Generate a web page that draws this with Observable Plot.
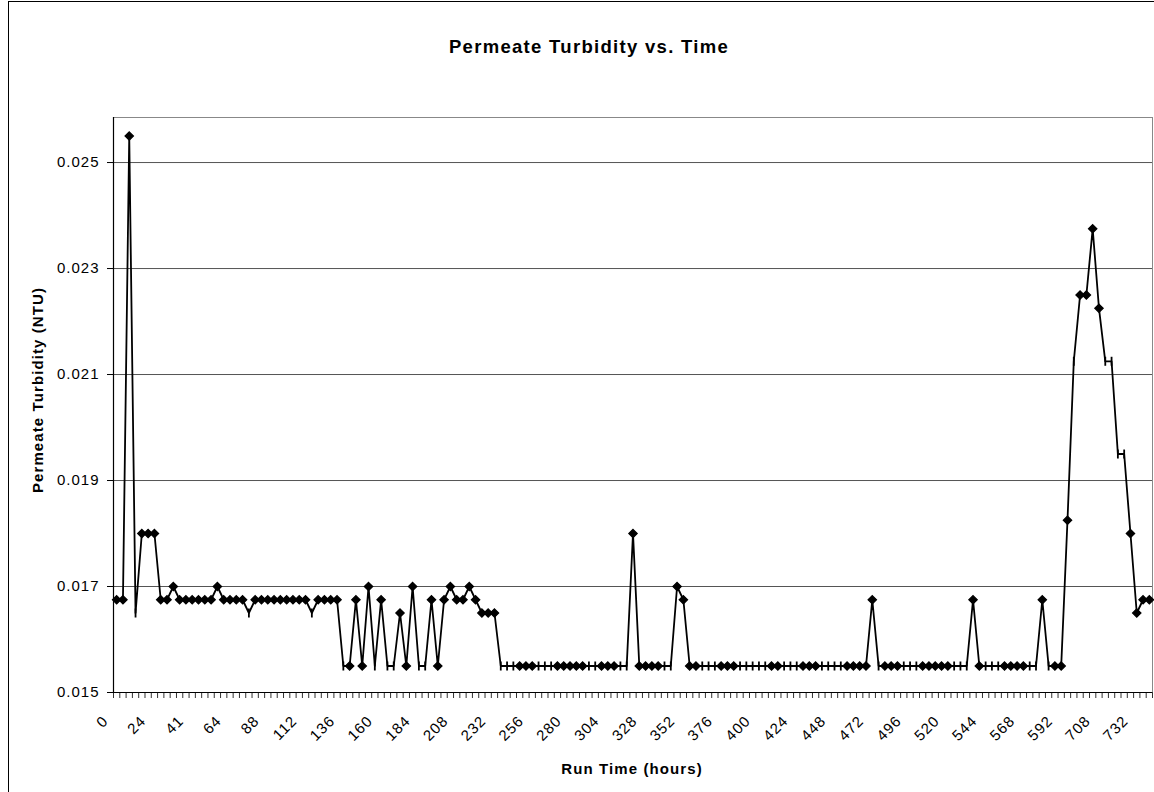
<!DOCTYPE html>
<html><head><meta charset="utf-8">
<script src="https://cdn.jsdelivr.net/npm/d3@7"></script>
<script src="https://cdn.jsdelivr.net/npm/@observablehq/plot@0.6"></script>
<style>
body{margin:0;background:#fff;}
#wrap{position:relative;width:1154px;height:792px;overflow:hidden;background:#fff;font-family:"Liberation Sans",Arial,sans-serif;color:#000;}
#chart{position:absolute;left:0;top:0;}
.border{position:absolute;left:8px;top:1px;width:1300px;height:1000px;border:1px solid #000;box-sizing:border-box;}
.t{position:absolute;white-space:nowrap;font-weight:bold;}
#title{left:0;width:1178px;text-align:center;top:38px;font-size:18.5px;line-height:18px;letter-spacing:1.3px;}
#xtitle{left:632px;top:768px;transform:translate(-50%,-50%);font-size:15px;line-height:15px;letter-spacing:1.1px;}
#ytitle{left:37px;top:390px;transform:translate(-50%,-50%) rotate(-90deg);font-size:15px;line-height:15px;letter-spacing:1.1px;}
</style></head>
<body>
<div id="wrap">
<div class="border"></div>
<div id="chart"></div>
<div class="t" id="title">Permeate Turbidity vs. Time</div>
<div class="t" id="xtitle">Run Time (hours)</div>
<div class="t" id="ytitle">Permeate Turbidity (NTU)</div>
</div>
<script>
// Permeate turbidity (NTU), one value per sample, in order
const values = [
0.01675,0.01675,0.0255,0.0165,0.018,0.018,0.018,0.01675,0.01675,0.017,
0.01675,0.01675,0.01675,0.01675,0.01675,0.01675,0.017,0.01675,0.01675,0.01675,
0.01675,0.0165,0.01675,0.01675,0.01675,0.01675,0.01675,0.01675,0.01675,0.01675,
0.01675,0.0165,0.01675,0.01675,0.01675,0.01675,0.0155,0.0155,0.01675,0.0155,
0.017,0.0155,0.01675,0.0155,0.0155,0.0165,0.0155,0.017,0.0155,0.0155,
0.01675,0.0155,0.01675,0.017,0.01675,0.01675,0.017,0.01675,0.0165,0.0165,
0.0165,0.0155,0.0155,0.0155,0.0155,0.0155,0.0155,0.0155,0.0155,0.0155,
0.0155,0.0155,0.0155,0.0155,0.0155,0.0155,0.0155,0.0155,0.0155,0.0155,
0.0155,0.0155,0.018,0.0155,0.0155,0.0155,0.0155,0.0155,0.0155,0.017,
0.01675,0.0155,0.0155,0.0155,0.0155,0.0155,0.0155,0.0155,0.0155,0.0155,
0.0155,0.0155,0.0155,0.0155,0.0155,0.0155,0.0155,0.0155,0.0155,0.0155,
0.0155,0.0155,0.0155,0.0155,0.0155,0.0155,0.0155,0.0155,0.0155,0.0155,
0.01675,0.0155,0.0155,0.0155,0.0155,0.0155,0.0155,0.0155,0.0155,0.0155,
0.0155,0.0155,0.0155,0.0155,0.0155,0.0155,0.01675,0.0155,0.0155,0.0155,
0.0155,0.0155,0.0155,0.0155,0.0155,0.0155,0.0155,0.01675,0.0155,0.0155,
0.0155,0.01825,0.02125,0.0225,0.0225,0.02375,0.02225,0.02125,0.02125,0.0195,
0.0195,0.018,0.0165,0.01675,0.01675
];
// samples drawn with a bar-shaped marker instead of a diamond
const barMarkers = [3,21,31,36,41,43,44,48,49,61,62,63,67,68,69,75,76,80,81,87,88,
  93,94,95,99,100,101,102,103,106,107,108,112,113,114,115,121,125,126,127,
  133,134,135,138,139,140,145,146,148,152,157,158,159,160];
// category labels shown on the x axis (every 6th sample)
const tickLabels = ["0","24","41","64","88","112","136","160","184","208","232","256","280","304",
  "328","352","376","400","424","448","472","496","520","544","568","592","708","732"];
const labelStep = 6;
const yTicks = [0.015,0.017,0.019,0.021,0.023,0.025];
const gridLines = [0.017,0.019,0.021,0.023,0.025];

const N = values.length;
const barSet = new Set(barMarkers);
const data = values.map((v, i) => ({i, v, bar: barSet.has(i)}));
const boundaries = d3.range(N + 1).map(k => k - 0.5);
const labelIdx = tickLabels.map((_, k) => k * labelStep);

const diamond = {draw(ctx) {const h = 4.2; ctx.moveTo(0, -h); ctx.lineTo(h, 0); ctx.lineTo(0, h); ctx.lineTo(-h, 0); ctx.closePath();}};
const vbar = {draw(ctx) {const h = 4.5; ctx.moveTo(0, -h); ctx.lineTo(0, h);}};

const chart = Plot.plot({
  width: 1154, height: 792,
  marginLeft: 113, marginRight: 2, marginTop: 117, marginBottom: 100,
  x: {type: "linear", domain: [-0.5, N - 0.5]},
  y: {domain: [0.015, 0.02585]},
  style: {fontFamily: '"Liberation Sans", Arial, sans-serif', fontSize: "15px", color: "#000", background: "transparent", letterSpacing: "1px"},
  marks: [
    Plot.ruleY(gridLines, {stroke: "#555", strokeWidth: 1}),
    Plot.frame({stroke: "#888"}),
    Plot.axisY({ticks: yTicks, tickFormat: d3.format(".3f"), tickSize: 6, tickPadding: 8, label: null, fontSize: 15}),
    Plot.axisX({ticks: boundaries, tickFormat: () => "", tickSize: 6, label: null, stroke: "#333"}),
    Plot.axisX({ticks: labelIdx, tickFormat: d => tickLabels[Math.round(d / labelStep)], tickSize: 0, tickRotate: -45, tickPadding: 26, dx: -11, label: null, fontSize: 15}),
    Plot.ruleX([-0.5], {stroke: "#000", strokeWidth: 1.2}),
    Plot.ruleY([0.015], {stroke: "#000", strokeWidth: 1.2}),
    Plot.line(data, {x: "i", y: "v", stroke: "#000", strokeWidth: 1.8}),
    Plot.dot(data.filter(d => !d.bar), {x: "i", y: "v", symbol: diamond, fill: "#000", stroke: "#000", strokeWidth: 1.2, r: 3}),
    Plot.dot(data.filter(d => d.bar), {x: "i", y: "v", symbol: vbar, stroke: "#000", strokeWidth: 1.8, fill: "none", r: 3})
  ]
});
document.getElementById("chart").appendChild(chart);
</script>
</body></html>
